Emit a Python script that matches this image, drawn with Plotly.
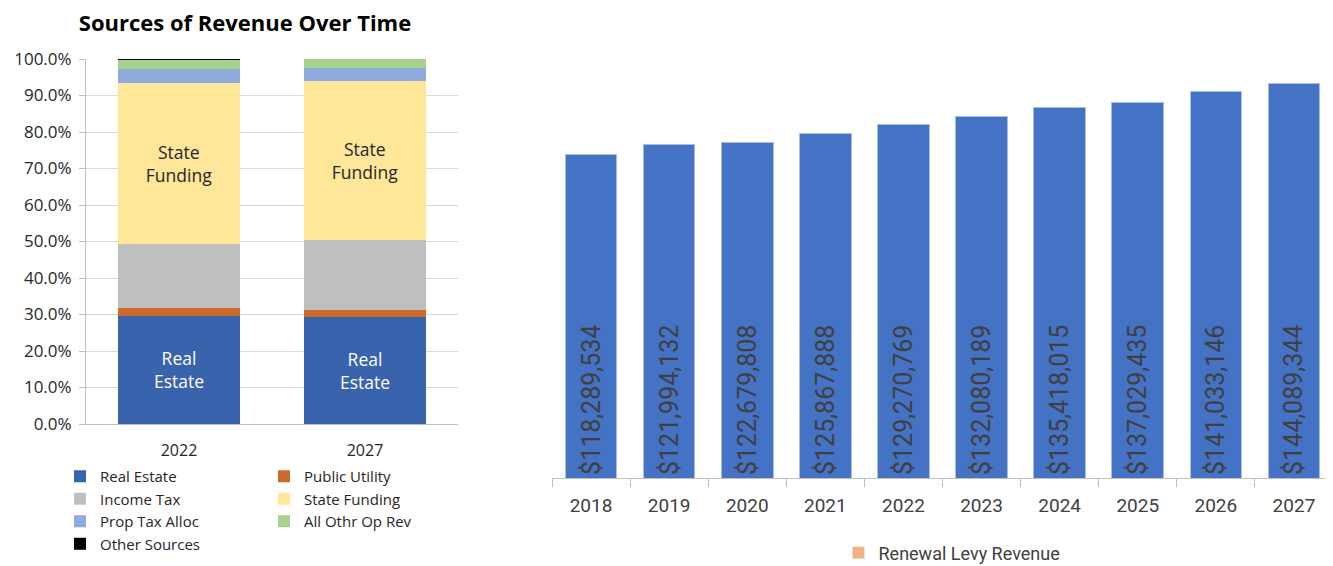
import plotly.graph_objects as go

# ---------------- data ----------------
share_years = ["2022", "2027"]
real_estate = [29.7, 29.3]
public_utility = [2.1, 2.0]
income_tax = [17.4, 19.0]
state_funding = [44.3, 43.7]
prop_tax_alloc = [3.85, 3.6]
all_othr_op_rev = [2.4, 2.4]
other_sources = [0.25, 0.0]

real_estate_labels = ["Real<br>Estate", "Real<br>Estate"]
state_funding_labels = ["State<br>Funding", "State<br>Funding"]

pct_ticks = [0, 10, 20, 30, 40, 50, 60, 70, 80, 90, 100]
pct_tick_labels = ["0.0%", "10.0%", "20.0%", "30.0%", "40.0%", "50.0%",
                   "60.0%", "70.0%", "80.0%", "90.0%", "100.0%"]

levy_years = ["2018", "2019", "2020", "2021", "2022", "2023", "2024", "2025", "2026", "2027"]
levy_revenue = [118289534, 121994132, 122679808, 125867888, 129270769,
                132080189, 135418015, 137029435, 141033146, 144089344]

# ---------------- geometry helpers (page has an 8px body margin) ----------------
OFF = 8
W, H = 1333 - OFF, 566 - OFF


def px(x):
    return (x - OFF) / W


def py(y):
    return 1 - (y - OFF) / H


LEFT_FONT = "Open Sans"
RIGHT_FONT = "Roboto"

fig = go.Figure()

segments = [
    ("Real Estate", real_estate, "#3A63AD", "legend", real_estate_labels, "#FFFFFF"),
    ("Public Utility", public_utility, "#CE6A2A", "legend2", None, None),
    ("Income Tax", income_tax, "#BFBFBF", "legend", None, None),
    ("State Funding", state_funding, "#FFE699", "legend2", state_funding_labels, "#262626"),
    ("Prop Tax Alloc", prop_tax_alloc, "#8FAADC", "legend", None, None),
    ("All Othr Op Rev", all_othr_op_rev, "#A9D18E", "legend2", None, None),
    ("Other Sources", other_sources, "#000000", "legend", None, None),
]

for name, vals, color, leg, labels, tcolor in segments:
    if labels is not None:
        kw = dict(text=labels, textposition="inside", insidetextanchor="middle",
                  textangle=0, textfont=dict(family=LEFT_FONT, size=17.5, color=tcolor),
                  texttemplate="%{text}")
    else:
        kw = dict(textposition="none")
    fig.add_trace(go.Bar(
        x=share_years, y=vals, name=name, marker=dict(color=color, line=dict(width=0)),
        xaxis="x", yaxis="y", legend=leg, hoverinfo="skip", **kw))

fig.add_trace(go.Bar(
    x=levy_years, y=levy_revenue, name="Levy Revenue", showlegend=False,
    marker=dict(color="#4472C4", line=dict(color="#A9BFE6", width=1)),
    texttemplate="$%{y:,.0f}", textposition="inside", insidetextanchor="start",
    textangle=-90, textfont=dict(family=RIGHT_FONT, size=25, color="#404040"),
    xaxis="x2", yaxis="y2", hoverinfo="skip"))

fig.add_trace(go.Bar(
    x=levy_years, y=[None] * len(levy_years), name="Renewal Levy Revenue",
    marker=dict(color="#F4B183"), xaxis="x2", yaxis="y2", legend="legend3",
    showlegend=True, hoverinfo="skip"))

legend_common = dict(orientation="v", traceorder="normal", bgcolor="rgba(0,0,0,0)",
                     font=dict(family=LEFT_FONT, size=15, color="#262626"),
                     tracegroupgap=0, itemclick=False, itemdoubleclick=False,
                     xanchor="left", yanchor="top")

fig.update_layout(
    width=W, height=H,
    margin=dict(l=0, r=0, t=0, b=0, autoexpand=False),
    paper_bgcolor="white", plot_bgcolor="white",
    barmode="stack",
    showlegend=True,
    title=dict(text="Sources of Revenue Over Time", x=px(245), xanchor="center",
               y=py(23), yanchor="middle", xref="paper", yref="paper",
               font=dict(family=LEFT_FONT, size=22, color="#000000", weight=700)),
    xaxis=dict(domain=[px(86), px(458)], type="category", anchor="y",
               showline=True, linecolor="#BFBFBF", linewidth=1, ticks="",
               tickfont=dict(family=LEFT_FONT, size=16, color="#262626"),
               ticklabelstandoff=12, showgrid=False, fixedrange=True),
    yaxis=dict(domain=[py(424), py(59)], range=[0, 100], anchor="x",
               tickmode="array", tickvals=pct_ticks, ticktext=pct_tick_labels,
               showline=True, linecolor="#BFBFBF", linewidth=1,
               ticks="outside", ticklen=6, tickcolor="#BFBFBF",
               showgrid=True, gridcolor="#D9D9D9", gridwidth=1,
               tickfont=dict(family=LEFT_FONT, size=17, color="#262626"),
               ticklabelstandoff=4, zeroline=False, fixedrange=True),
    xaxis2=dict(domain=[px(552), 1.0], type="category", anchor="y2",
                showline=True, linecolor="#BFBFBF", linewidth=1,
                ticks="outside", tickson="boundaries", ticklen=8, tickcolor="#BFBFBF",
                tickfont=dict(family=RIGHT_FONT, size=19, color="#404040"),
                ticklabelstandoff=10, showgrid=False, fixedrange=True),
    yaxis2=dict(domain=[py(478), py(40)], range=[0, 160e6], anchor="x2",
                visible=False, showgrid=False, zeroline=False, fixedrange=True),
    legend=dict(x=px(60), y=py(460), **legend_common),
    legend2=dict(x=px(264), y=py(460), **legend_common),
    legend3=dict(x=px(952), y=py(553), xanchor="center", yanchor="middle",
                 orientation="h", bgcolor="rgba(0,0,0,0)",
                 font=dict(family=RIGHT_FONT, size=18, color="#404040"),
                 itemclick=False, itemdoubleclick=False),
    bargap=0.34,
)

fig.write_html("out.html")
